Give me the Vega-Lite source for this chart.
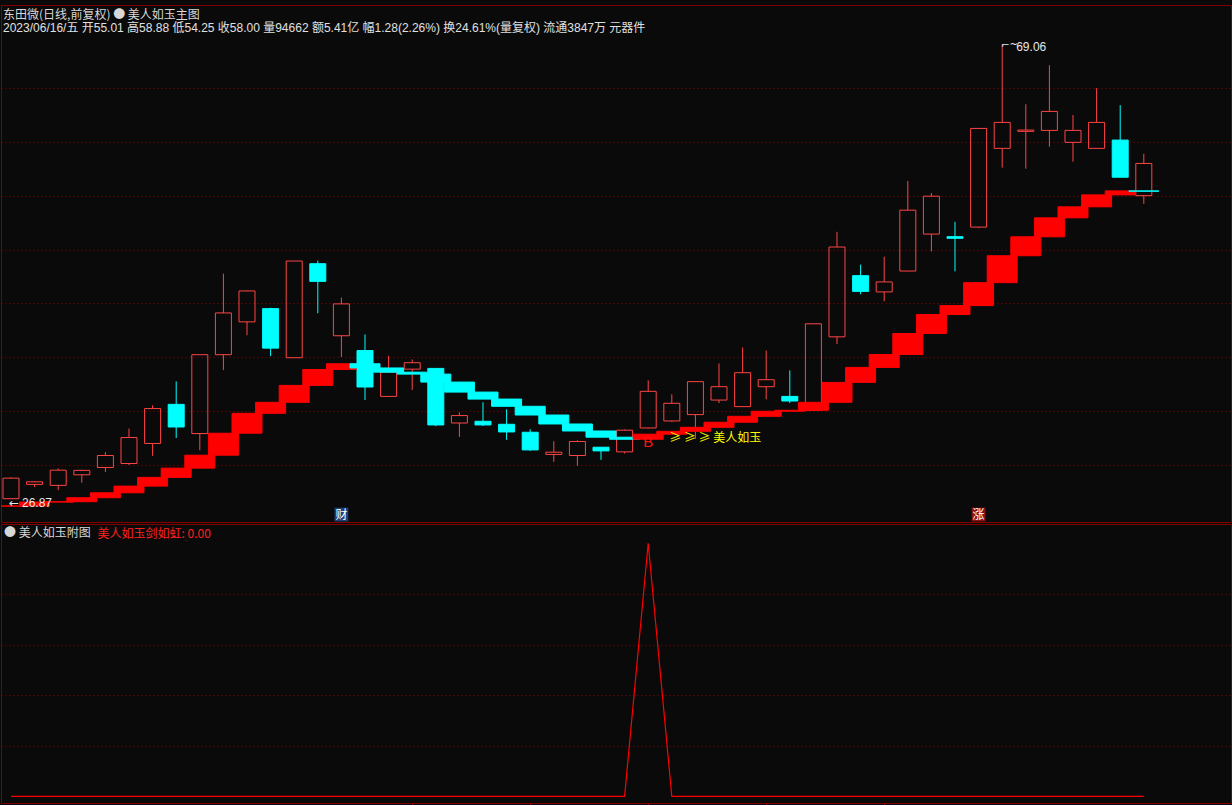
{
  "$schema": "https://vega.github.io/schema/vega-lite/v6.json",
  "background": "#0a0a0a",
  "padding": {"left": 0, "top": 4, "right": 2, "bottom": 0},
  "spacing": 0,
  "config": {"view": {"stroke": "#800000", "strokeWidth": 1}, "axis": {"minExtent": 0}, "scale": {"continuousPadding": 0}},
  "datasets": {
    "k": [
      {"i": 0, "o": 26.87, "h": 28.85, "l": 26.87, "c": 28.78, "band": 26.19, "trend": "up", "sword": 0},
      {"i": 1, "o": 28.20, "h": 28.50, "l": 27.95, "c": 28.44, "band": 26.56, "trend": "up", "sword": 0},
      {"i": 2, "o": 28.11, "h": 29.68, "l": 27.67, "c": 29.52, "band": 26.59, "trend": "up", "sword": 0},
      {"i": 3, "o": 29.09, "h": 29.56, "l": 28.35, "c": 29.50, "band": 26.96, "trend": "up", "sword": 0},
      {"i": 4, "o": 29.77, "h": 31.19, "l": 29.34, "c": 30.88, "band": 27.42, "trend": "up", "sword": 0},
      {"i": 5, "o": 30.14, "h": 33.38, "l": 30.00, "c": 32.55, "band": 28.04, "trend": "up", "sword": 0},
      {"i": 6, "o": 32.00, "h": 35.54, "l": 30.85, "c": 35.24, "band": 28.85, "trend": "up", "sword": 0},
      {"i": 7, "o": 35.63, "h": 37.76, "l": 32.51, "c": 33.53, "band": 29.71, "trend": "up", "sword": 0},
      {"i": 8, "o": 32.92, "h": 40.24, "l": 31.37, "c": 40.24, "band": 30.91, "trend": "up", "sword": 0},
      {"i": 9, "o": 40.24, "h": 47.76, "l": 38.81, "c": 44.12, "band": 32.95, "trend": "up", "sword": 0},
      {"i": 10, "o": 43.29, "h": 46.20, "l": 42.05, "c": 46.16, "band": 34.80, "trend": "up", "sword": 0},
      {"i": 11, "o": 44.52, "h": 44.60, "l": 40.11, "c": 40.85, "band": 35.82, "trend": "up", "sword": 0},
      {"i": 12, "o": 39.96, "h": 48.94, "l": 39.96, "c": 48.94, "band": 37.39, "trend": "up", "sword": 0},
      {"i": 13, "o": 48.69, "h": 48.97, "l": 44.09, "c": 47.05, "band": 38.87, "trend": "up", "sword": 0},
      {"i": 14, "o": 42.00, "h": 45.54, "l": 40.02, "c": 44.96, "band": 39.40, "trend": "up", "sword": 0, "event": "财"},
      {"i": 15, "o": 40.63, "h": 42.12, "l": 36.03, "c": 37.24, "band": 39.01, "trend": "down", "sword": 0},
      {"i": 16, "o": 36.37, "h": 40.14, "l": 36.37, "c": 38.62, "band": 38.62, "trend": "down", "sword": 0},
      {"i": 17, "o": 38.90, "h": 39.80, "l": 36.96, "c": 39.50, "band": 38.44, "trend": "down", "sword": 0},
      {"i": 18, "o": 38.97, "h": 39.00, "l": 33.60, "c": 33.72, "band": 37.70, "trend": "down", "sword": 0},
      {"i": 19, "o": 33.90, "h": 34.89, "l": 32.61, "c": 34.59, "band": 36.77, "trend": "down", "sword": 0},
      {"i": 20, "o": 34.06, "h": 35.82, "l": 33.63, "c": 33.72, "band": 36.12, "trend": "down", "sword": 0},
      {"i": 21, "o": 33.78, "h": 35.17, "l": 32.33, "c": 33.07, "band": 35.45, "trend": "down", "sword": 0},
      {"i": 22, "o": 33.04, "h": 33.32, "l": 31.31, "c": 31.40, "band": 34.64, "trend": "down", "sword": 0},
      {"i": 23, "o": 30.98, "h": 32.21, "l": 30.29, "c": 31.19, "band": 33.81, "trend": "down", "sword": 0},
      {"i": 24, "o": 30.88, "h": 32.30, "l": 29.92, "c": 32.18, "band": 33.16, "trend": "down", "sword": 0},
      {"i": 25, "o": 31.65, "h": 31.65, "l": 30.48, "c": 31.31, "band": 32.58, "trend": "down", "sword": 0},
      {"i": 26, "o": 31.22, "h": 33.30, "l": 31.07, "c": 33.23, "band": 32.39, "trend": "down", "sword": 0},
      {"i": 27, "o": 33.44, "h": 37.86, "l": 33.40, "c": 36.84, "band": 32.86, "trend": "up", "sword": 100, "signal": "B"},
      {"i": 28, "o": 34.09, "h": 36.56, "l": 34.00, "c": 35.73, "band": 33.13, "trend": "up", "sword": 0},
      {"i": 29, "o": 34.68, "h": 37.74, "l": 32.42, "c": 37.74, "band": 33.50, "trend": "up", "sword": 0},
      {"i": 30, "o": 36.03, "h": 39.43, "l": 35.75, "c": 37.27, "band": 33.97, "trend": "up", "sword": 0},
      {"i": 31, "o": 35.42, "h": 40.91, "l": 35.40, "c": 38.57, "band": 34.52, "trend": "up", "sword": 0},
      {"i": 32, "o": 37.27, "h": 40.63, "l": 36.10, "c": 37.92, "band": 34.99, "trend": "up", "sword": 0},
      {"i": 33, "o": 36.37, "h": 38.78, "l": 35.75, "c": 35.94, "band": 35.08, "trend": "up", "sword": 0},
      {"i": 34, "o": 35.08, "h": 43.11, "l": 35.00, "c": 43.11, "band": 35.82, "trend": "up", "sword": 0},
      {"i": 35, "o": 41.90, "h": 51.65, "l": 41.22, "c": 50.24, "band": 37.67, "trend": "up", "sword": 0},
      {"i": 36, "o": 47.58, "h": 48.60, "l": 45.85, "c": 46.12, "band": 39.06, "trend": "up", "sword": 0},
      {"i": 37, "o": 46.07, "h": 49.34, "l": 45.20, "c": 47.00, "band": 40.26, "trend": "up", "sword": 0},
      {"i": 38, "o": 48.01, "h": 56.37, "l": 48.00, "c": 53.66, "band": 42.21, "trend": "up", "sword": 0},
      {"i": 39, "o": 51.44, "h": 55.26, "l": 49.83, "c": 54.96, "band": 43.97, "trend": "up", "sword": 0},
      {"i": 40, "o": 51.20, "h": 52.58, "l": 47.98, "c": 51.05, "band": 44.80, "trend": "up", "sword": 0},
      {"i": 41, "o": 52.09, "h": 61.25, "l": 52.00, "c": 61.25, "band": 46.93, "trend": "up", "sword": 0, "event": "涨"},
      {"i": 42, "o": 59.40, "h": 69.06, "l": 57.61, "c": 61.81, "band": 49.43, "trend": "up", "sword": 0},
      {"i": 43, "o": 60.98, "h": 63.50, "l": 57.51, "c": 61.10, "band": 51.19, "trend": "up", "sword": 0},
      {"i": 44, "o": 61.07, "h": 67.12, "l": 59.55, "c": 62.83, "band": 52.95, "trend": "up", "sword": 0},
      {"i": 45, "o": 59.96, "h": 62.49, "l": 58.16, "c": 61.07, "band": 53.97, "trend": "up", "sword": 0},
      {"i": 46, "o": 59.40, "h": 64.99, "l": 59.40, "c": 61.81, "band": 55.08, "trend": "up", "sword": 0},
      {"i": 47, "o": 60.17, "h": 63.41, "l": 56.70, "c": 56.72, "band": 55.45, "trend": "up", "sword": 0},
      {"i": 48, "o": 55.01, "h": 58.88, "l": 54.25, "c": 58.00, "band": 55.42, "trend": "down", "sword": 0}
    ]
  },
  "vconcat": [
    {
      "width": 1230,
      "height": 517,
      "data": {"name": "k"},
      "title": {
        "text": "东田微(日线,前复权)\u00a0●\u00a0美人如玉主图",
        "subtitle": "2023/06/16/五 开55.01 高58.88 低54.25 收58.00 量94662 额5.41亿 幅1.28(2.26%) 换24.61%(量复权) 流通3847万 元器件",
        "anchor": "start",
        "frame": "group",
        "offset": -30,
        "dx": 2,
        "font": "Noto Sans CJK SC",
        "fontSize": 12,
        "fontWeight": "normal",
        "color": "#d8d8d8",
        "subtitleFont": "Liberation Sans, Noto Sans CJK SC",
        "subtitleFontSize": 12,
        "subtitleColor": "#e0e0e0",
        "subtitlePadding": 1
      },
      "encoding": {
        "x": {"field": "i", "type": "quantitative", "scale": {"domain": [-0.4237, 51.695], "nice": false, "zero": false, "padding": 0}, "axis": null}
      },
      "layer": [
        {
          "transform": [{"filter": "datum.c >= datum.o"}],
          "mark": {"type": "rule", "color": "#ff4444", "strokeWidth": 1},
          "encoding": {
            "y": {"field": "c", "type": "quantitative", "scale": {"domain": [24.708, 72.711], "nice": false, "zero": false, "padding": 0},
                  "axis": {"values": [30, 35, 40, 45, 50, 55, 60, 65], "grid": true, "labels": false, "ticks": false, "domain": false, "title": null, "gridColor": "#8c0000", "gridDash": [1, 3], "gridOpacity": 1, "gridWidth": 1}},
            "y2": {"field": "h"}
          }
        },
        {
          "transform": [{"filter": "datum.c >= datum.o"}],
          "mark": {"type": "rule", "color": "#ff4444", "strokeWidth": 1},
          "encoding": {
            "y": {"field": "l", "type": "quantitative", "scale": {"domain": [24.708, 72.711], "nice": false, "zero": false, "padding": 0}},
            "y2": {"field": "o"}
          }
        },
        {
          "transform": [{"filter": "datum.c < datum.o"}],
          "mark": {"type": "rule", "color": "#00ffff", "strokeWidth": 1},
          "encoding": {
            "y": {"field": "l", "type": "quantitative", "scale": {"domain": [24.708, 72.711], "nice": false, "zero": false, "padding": 0}},
            "y2": {"field": "h"}
          }
        },
        {
          "transform": [{"filter": "datum.c >= datum.o"}],
          "mark": {"type": "bar", "orient": "vertical", "size": 16, "filled": false, "color": "#ff4444", "strokeWidth": 1},
          "encoding": {
            "y": {"field": "o", "type": "quantitative", "scale": {"domain": [24.708, 72.711], "nice": false, "zero": false, "padding": 0}},
            "y2": {"field": "c"}
          }
        },
        {
          "transform": [{"filter": "datum.c < datum.o"}],
          "mark": {"type": "bar", "orient": "vertical", "size": 16, "fill": "#00ffff", "stroke": "#00ffff", "strokeWidth": 1},
          "encoding": {
            "y": {"field": "o", "type": "quantitative", "scale": {"domain": [24.708, 72.711], "nice": false, "zero": false, "padding": 0}},
            "y2": {"field": "c"}
          }
        },
        {
          "transform": [
            {"window": [{"op": "min", "field": "band", "as": "lo"}, {"op": "max", "field": "band", "as": "hi"}], "frame": [-1, 0], "sort": [{"field": "i"}]}
          ],
          "mark": {"type": "bar", "orient": "vertical", "size": 30, "strokeWidth": 1, "clip": true},
          "encoding": {
            "y": {"field": "lo", "type": "quantitative", "scale": {"domain": [24.708, 72.711], "nice": false, "zero": false, "padding": 0}},
            "y2": {"field": "hi"},
            "color": {"field": "trend", "type": "nominal", "scale": {"domain": ["up", "down"], "range": ["#ff0000", "#00ffff"]}, "legend": null},
            "stroke": {"field": "trend", "type": "nominal", "scale": {"domain": ["up", "down"], "range": ["#ff0000", "#00ffff"]}, "legend": null}
          }
        },
        {
          "transform": [{"filter": "datum.signal == 'B'"}],
          "mark": {"type": "text", "color": "#ff1010", "font": "Liberation Sans", "fontSize": 15, "baseline": "middle", "align": "center", "dy": 8},
          "encoding": {
            "y": {"field": "band", "type": "quantitative", "scale": {"domain": [24.708, 72.711], "nice": false, "zero": false, "padding": 0}},
            "text": {"field": "signal"}
          }
        },
        {
          "transform": [{"filter": "datum.signal == 'B'"}],
          "mark": {"type": "text", "text": "≥ ≥ ≥ 美人如玉", "color": "#ffff00", "font": "Noto Sans CJK SC", "fontSize": 12, "baseline": "middle", "align": "left", "dx": 21, "dy": 4},
          "encoding": {
            "y": {"field": "band", "type": "quantitative", "scale": {"domain": [24.708, 72.711], "nice": false, "zero": false, "padding": 0}}
          }
        },
        {
          "transform": [{"joinaggregate": [{"op": "min", "field": "l", "as": "minL"}]}, {"filter": "datum.l == datum.minL"}],
          "mark": {"type": "text", "text": "←", "color": "#e8e8e8", "font": "DejaVu Sans", "fontSize": 12, "baseline": "middle", "align": "left", "dx": -2, "dy": 4},
          "encoding": {
            "y": {"field": "l", "type": "quantitative", "scale": {"domain": [24.708, 72.711], "nice": false, "zero": false, "padding": 0}}
          }
        },
        {
          "transform": [{"joinaggregate": [{"op": "min", "field": "l", "as": "minL"}]}, {"filter": "datum.l == datum.minL"}],
          "mark": {"type": "text", "color": "#e8e8e8", "font": "Liberation Sans", "fontSize": 12, "baseline": "middle", "align": "left", "dx": 11, "dy": 4},
          "encoding": {
            "y": {"field": "l", "type": "quantitative", "scale": {"domain": [24.708, 72.711], "nice": false, "zero": false, "padding": 0}},
            "text": {"field": "l", "format": ".2f"}
          }
        },
        {
          "transform": [{"joinaggregate": [{"op": "max", "field": "h", "as": "maxH"}]}, {"filter": "datum.h == datum.maxH"}],
          "mark": {"type": "text", "text": "⌐~", "color": "#e8e8e8", "font": "DejaVu Sans", "fontSize": 10, "baseline": "middle", "align": "left", "dx": -1, "dy": 1},
          "encoding": {
            "y": {"field": "h", "type": "quantitative", "scale": {"domain": [24.708, 72.711], "nice": false, "zero": false, "padding": 0}}
          }
        },
        {
          "transform": [{"joinaggregate": [{"op": "max", "field": "h", "as": "maxH"}]}, {"filter": "datum.h == datum.maxH"}],
          "mark": {"type": "text", "color": "#e8e8e8", "font": "Liberation Sans", "fontSize": 12, "baseline": "middle", "align": "left", "dx": 14, "dy": 3},
          "encoding": {
            "y": {"field": "h", "type": "quantitative", "scale": {"domain": [24.708, 72.711], "nice": false, "zero": false, "padding": 0}},
            "text": {"field": "h", "format": ".2f"}
          }
        },
        {
          "transform": [{"filter": "isValid(datum.event)"}],
          "mark": {"type": "point", "shape": "square", "size": 190, "filled": true, "opacity": 1},
          "encoding": {
            "y": {"datum": 25.4, "type": "quantitative", "scale": {"domain": [24.708, 72.711], "nice": false, "zero": false, "padding": 0}},
            "fill": {"field": "event", "type": "nominal", "scale": {"domain": ["财", "涨"], "range": ["#1d3f78", "#8a1212"]}, "legend": null}
          }
        },
        {
          "transform": [{"filter": "isValid(datum.event)"}],
          "mark": {"type": "text", "color": "#ffffff", "font": "Noto Sans CJK SC", "fontSize": 12, "baseline": "middle", "align": "center"},
          "encoding": {
            "y": {"datum": 25.4, "type": "quantitative", "scale": {"domain": [24.708, 72.711], "nice": false, "zero": false, "padding": 0}},
            "text": {"field": "event"}
          }
        }
      ]
    },
    {
      "width": 1230,
      "height": 279,
      "data": {"name": "k"},
      "title": {
        "text": "●\u00a0美人如玉附图",
        "anchor": "start",
        "frame": "group",
        "offset": -16,
        "dx": 3,
        "font": "Noto Sans CJK SC",
        "fontSize": 12,
        "fontWeight": "normal",
        "color": "#d8d8d8"
      },
      "mark": {"type": "line", "color": "#ff0000", "strokeWidth": 1.2},
      "encoding": {
        "x": {"field": "i", "type": "quantitative", "scale": {"domain": [-0.4237, 51.695], "nice": false, "zero": false, "padding": 0},
              "axis": {"values": [17, 22, 27, 32, 37], "labels": false, "domain": false, "grid": false, "ticks": true, "tickSize": 4, "tickColor": "#800000", "title": null}},
        "y": {"field": "sword", "type": "quantitative", "scale": {"domain": [-2.65, 107.63], "nice": false, "zero": false, "padding": 0},
              "axis": {"values": [20, 40, 60, 80], "grid": true, "labels": false, "ticks": false, "domain": false,
                       "title": "美人如玉剑如虹: 0.00", "titleColor": "#ff2020", "titleAngle": 0, "titleAlign": "left", "titleBaseline": "middle",
                       "titleX": 96, "titleY": 9, "titleFont": "Noto Sans CJK SC", "titleFontSize": 12, "titleFontWeight": "normal",
                       "gridColor": "#8c0000", "gridDash": [1, 3], "gridOpacity": 1}}
      }
    }
  ]
}
